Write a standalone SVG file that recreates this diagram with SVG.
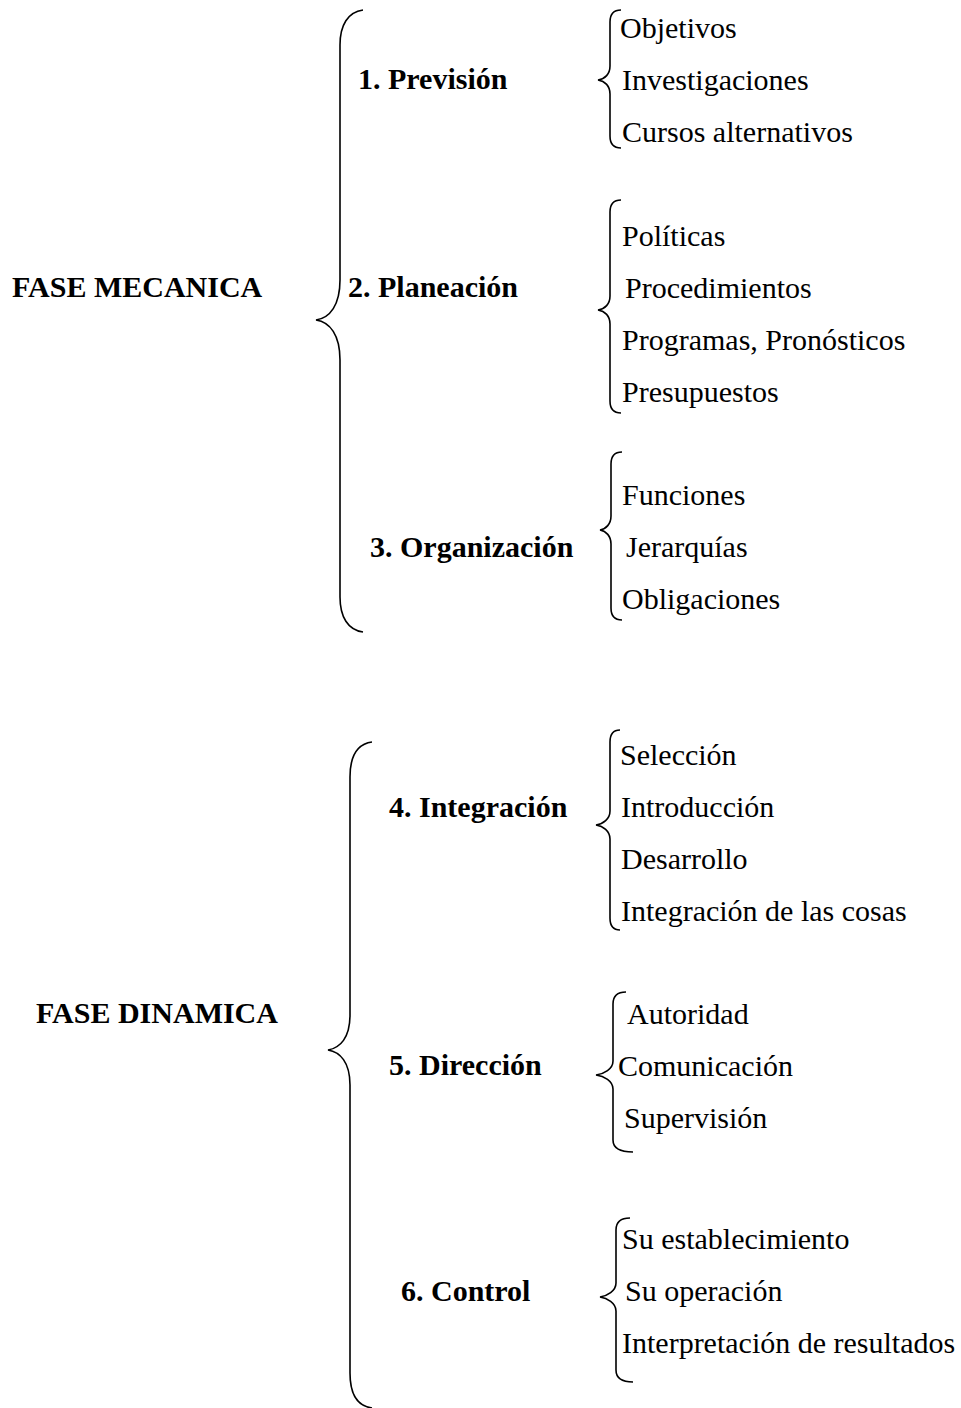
<svg xmlns="http://www.w3.org/2000/svg" width="961" height="1408" viewBox="0 0 961 1408">
<style>
text{font-family:"Liberation Serif","Times New Roman",serif;font-size:30px;fill:#000}
.b{font-weight:bold}
.br{fill:none;stroke:#000;stroke-width:1.6}
</style>
<rect width="961" height="1408" fill="#fff"/>
<g id="connectors">
<path class="br" d="M363,10 C348,12 340,25 340,45 L340,280 C340,305 330,318 316,320 C330,322 340,335 340,360 L340,597 C340,617 348,630 363,632"/>
<path class="br" d="M372,742 C357,744 350,757 350,777 L350,1015 C350,1038 340,1048 328,1050 C340,1052 350,1062 350,1085 L350,1373 C350,1393 357,1406 372,1408"/>
<path class="br" d="M621,10 C614,10 610,14 610,22 L610,66 C610,74 605,79 598,80 C605,81 610,86 610,94 L610,136 C610,144 614,148 621,148"/>
<path class="br" d="M621,200 C614,200 610,204 610,212 L610,296 C610,304 605,309 598,310 C605,311 610,316 610,324 L610,401 C610,409 614,413 621,413"/>
<path class="br" d="M622,452 C615,452 611,456 611,464 L611,516 C611,524 606,529 600,530 C606,531 611,536 611,544 L611,608 C611,616 615,620 622,620"/>
<path class="br" d="M620,730 C614,730 610,734 610,742 L610,811 C610,819 603,824 596,825 C603,826 610,831 610,839 L610,918 C610,926 614,930 620,930"/>
<path class="br" d="M626,992 C618,992 613,996 613,1004 L613,1061 C613,1069 604,1074 596,1075 C604,1076 613,1081 613,1089 L613,1140 C613,1148 620,1152 633,1152"/>
<path class="br" d="M630,1218 C621,1218 616,1222 616,1230 L616,1283 C616,1291 607,1296 600,1297 C607,1298 616,1303 616,1311 L616,1370 C616,1378 622,1382 633,1382"/>
</g>
<g id="fase-mecanica"><text class="b" x="12" y="297">FASE MECANICA</text></g>
<g id="prevision"><text class="b" x="358" y="89">1. Previsión</text></g>
<g id="planeacion"><text class="b" x="348" y="297">2. Planeación</text></g>
<g id="organizacion"><text class="b" x="370" y="557">3. Organización</text></g>
<g id="fase-dinamica"><text class="b" x="36" y="1023">FASE DINAMICA</text></g>
<g id="integracion"><text class="b" x="389" y="817">4. Integración</text></g>
<g id="direccion"><text class="b" x="389" y="1075">5. Dirección</text></g>
<g id="control"><text class="b" x="401" y="1301">6. Control</text></g>
<g id="items-prevision">
<text x="620" y="38">Objetivos</text>
<text x="622" y="90">Investigaciones</text>
<text x="622" y="142">Cursos alternativos</text>
</g>
<g id="items-planeacion">
<text x="622" y="246">Políticas</text>
<text x="625" y="298">Procedimientos</text>
<text x="622" y="350">Programas, Pronósticos</text>
<text x="622" y="402">Presupuestos</text>
</g>
<g id="items-organizacion">
<text x="622" y="505">Funciones</text>
<text x="626" y="557">Jerarquías</text>
<text x="622" y="609">Obligaciones</text>
</g>
<g id="items-integracion">
<text x="620" y="765">Selección</text>
<text x="621" y="817">Introducción</text>
<text x="621" y="869">Desarrollo</text>
<text x="621" y="921">Integración de las cosas</text>
</g>
<g id="items-direccion">
<text x="627" y="1024">Autoridad</text>
<text x="618" y="1076">Comunicación</text>
<text x="624" y="1128">Supervisión</text>
</g>
<g id="items-control">
<text x="622" y="1249">Su establecimiento</text>
<text x="625" y="1301">Su operación</text>
<text x="622" y="1353">Interpretación de resultados</text>
</g>
</svg>
